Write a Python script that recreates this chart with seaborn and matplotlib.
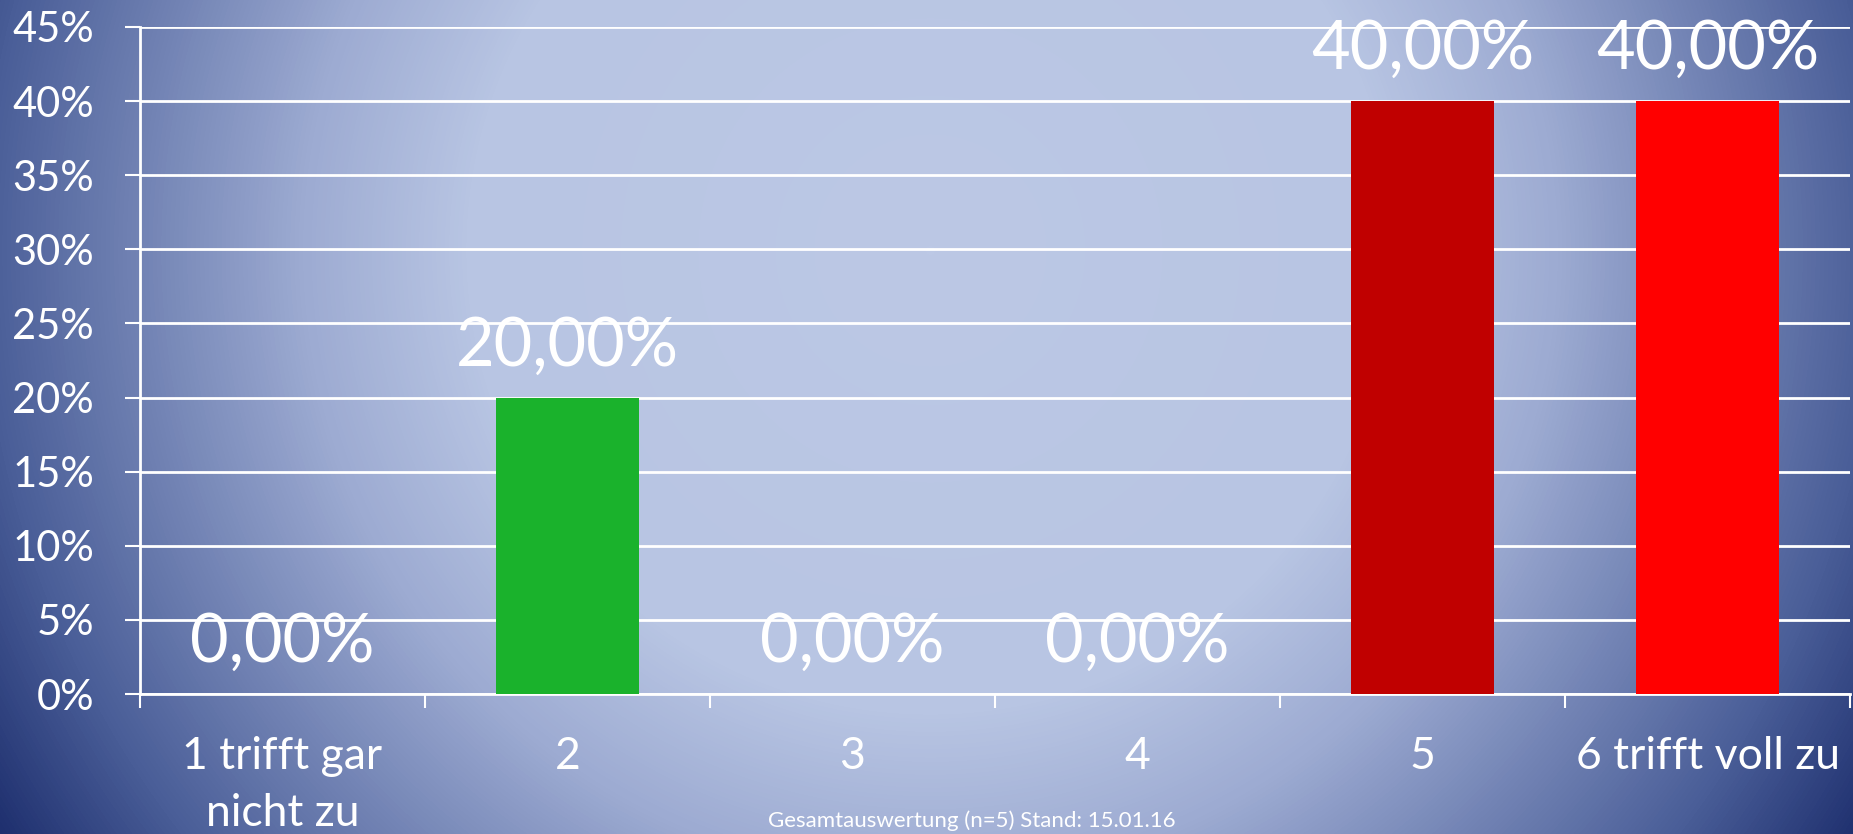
import numpy as np
import pandas as pd
import matplotlib as mpl
import matplotlib.pyplot as plt
import seaborn as sns
from matplotlib.colors import LinearSegmentedColormap

sns.set_theme(style="white")
plt.rcParams['font.family'] = ['Lato', 'DejaVu Sans']

categories = ["1 trifft gar\nnicht zu", "2", "3", "4", "5", "6 trifft voll zu"]
values = [0.0, 0.20, 0.0, 0.0, 0.40, 0.40]
bar_colors = ["#1AB22C", "#1AB22C", "#1AB22C", "#1AB22C", "#C00000", "#FF0000"]
y_ticks = [0, 0.05, 0.10, 0.15, 0.20, 0.25, 0.30, 0.35, 0.40, 0.45]
footer = "Gesamtauswertung (n=5) Stand: 15.01.16"

df = pd.DataFrame({"cat": categories, "val": values})

W, H = 1853, 834
fig = plt.figure(figsize=(W / 100, H / 100), dpi=100)

# radial blue background
bg = fig.add_axes([0, 0, 1, 1], zorder=-1)
yy, xx = np.mgrid[0:H, 0:W]
r = np.sqrt((xx - 930) ** 2 + (yy - 250) ** 2) / 1100
bg_cmap = LinearSegmentedColormap.from_list(
    "bg", [(0, "#bcc8e5"), (0.42, "#b8c5e3"), (0.57, "#9dabd2"),
           (0.86, "#4a5e98"), (1.0, "#1e2f6e")])
bg.imshow(np.clip(r, 0, 1), cmap=bg_cmap, vmin=0, vmax=1, aspect="auto",
          extent=[0, W, H, 0])
bg.axis("off")

ax = fig.add_axes([140 / W, 140 / H, 1710 / W, 667 / H])
ax.set_facecolor("none")
sns.barplot(data=df, x="cat", y="val", hue="cat", palette=bar_colors,
            width=0.5, saturation=1, legend=False, ax=ax, zorder=3,
            linewidth=0)

ax.set_xlim(-0.5, 5.5)
ax.set_ylim(0, 0.45)
ax.set_yticks(y_ticks)
ax.set_yticklabels([f"{int(round(t * 100))}%" for t in y_ticks])
ax.grid(axis="y", color="white", linewidth=2, zorder=0)
ax.set_axisbelow(True)
ax.set_xlabel("")
ax.set_ylabel("")

for s in ["top", "right"]:
    ax.spines[s].set_visible(False)
for s in ["left", "bottom"]:
    ax.spines[s].set_color("white")
    ax.spines[s].set_linewidth(2)

ax.tick_params(axis="y", colors="white", labelcolor="white", labelsize=30,
               length=11, width=1.5, pad=22, direction="out", left=True)
ax.tick_params(axis="x", which="major", length=0, labelcolor="white",
               labelsize=32, pad=30)
ax.set_xticks(range(len(categories)))
ax.set_xticklabels(categories, linespacing=1.5, va="top")
ax.set_xticks(np.arange(-0.5, 6, 1), minor=True)
ax.tick_params(axis="x", which="minor", length=10, width=1.5, color="white",
               direction="out", bottom=True)

for cont in ax.containers:
    for bar in cont:
        v = bar.get_height()
        ax.annotate(f"{v * 100:.2f}%".replace(".", ","),
                    (bar.get_x() + bar.get_width() / 2, v),
                    xytext=(0, 23), textcoords="offset points",
                    ha="center", va="baseline", color="white", fontsize=48)

fig.text(972 / W, 3 / H, footer, ha="center", va="bottom", color="white",
         fontsize=16)

plt.savefig("out.png", dpi=100)
